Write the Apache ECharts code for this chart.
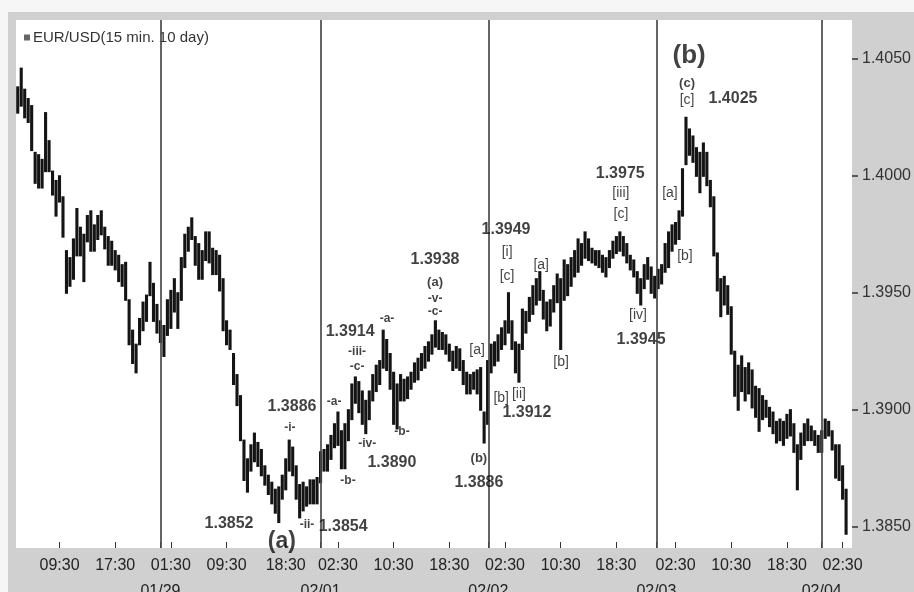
<!DOCTYPE html>
<html>
<head>
<meta charset="utf-8">
<script src="https://cdn.jsdelivr.net/npm/echarts@6.0.0/dist/echarts.min.js"></script>
<style>
html,body{margin:0;padding:0;background:#fff;}
#chart{width:914px;height:592px;}
</style>
</head>
<body>
<div id="chart"></div>
<script>
// 30-minute slots (slot 41 = 01/29 00:00, weekend compressed)
var seriesName = 'EUR/USD(15 min. 10 day)';

var highs = [
1.4038,1.4046,1.4037,1.4033,1.4030,1.4010,1.4009,1.4007,1.4027,1.4015,
1.4002,1.3998,1.4000,1.3991,1.3968,1.3965,1.3973,1.3986,1.3978,1.3975,
1.3983,1.3985,1.3979,1.3983,1.3985,1.3978,1.3974,1.3972,1.3968,1.3966,
1.3962,1.3963,1.3947,1.3934,1.3928,1.3939,1.3946,1.3949,1.3963,1.3954,
1.3945,1.3938,1.3936,1.3947,1.3951,1.3956,1.3950,1.3965,1.3975,1.3978,
1.3982,1.3974,1.3971,1.3968,1.3976,1.3976,1.3969,1.3968,1.3966,1.3956,
1.3938,1.3934,1.3924,1.3915,1.3906,1.3887,1.3879,1.3885,1.3890,1.3886,
1.3883,1.3876,1.3872,1.3869,1.3866,1.3867,1.3872,1.3879,1.3887,1.3884,
1.3876,1.3868,1.3869,1.3867,1.3870,1.3870,1.3871,1.3882,1.3883,1.3885,
1.3889,1.3894,1.3899,1.3891,1.3894,1.3900,1.3911,1.3914,1.3912,1.3908,
1.3904,1.3908,1.3915,1.3919,1.3921,1.3934,1.3930,1.3924,1.3916,1.3911,
1.3915,1.3913,1.3914,1.3916,1.3920,1.3922,1.3924,1.3927,1.3929,1.3932,
1.3938,1.3934,1.3933,1.3932,1.3928,1.3925,1.3927,1.3926,1.3921,1.3916,
1.3915,1.3916,1.3917,1.3918,1.3899,1.3921,1.3928,1.3929,1.3932,1.3935,
1.3938,1.3950,1.3938,1.3929,1.3928,1.3943,1.3942,1.3948,1.3953,1.3956,
1.3959,1.3951,1.3946,1.3947,1.3953,1.3958,1.3956,1.3964,1.3962,1.3965,
1.3968,1.3973,1.3971,1.3976,1.3973,1.3969,1.3968,1.3968,1.3966,1.3965,
1.3968,1.3972,1.3974,1.3976,1.3974,1.3971,1.3966,1.3964,1.3959,1.3956,
1.3962,1.3965,1.3961,1.3957,1.3960,1.3962,1.3971,1.3976,1.3979,1.3980,
1.3985,1.4003,1.4025,1.4020,1.4017,1.4012,1.4010,1.4014,1.4010,1.3998,
1.3991,1.3967,1.3956,1.3957,1.3953,1.3944,1.3925,1.3919,1.3923,1.3918,
1.3920,1.3917,1.3910,1.3909,1.3906,1.3904,1.3901,1.3899,1.3895,1.3896,
1.3895,1.3898,1.3900,1.3894,1.3885,1.3890,1.3894,1.3896,1.3893,1.3891,
1.3889,1.3891,1.3896,1.3895,1.3891,1.3885,1.3885,1.3876,1.3866
];

var lows = [
1.4027,1.4030,1.4025,1.4023,1.4011,1.3997,1.3995,1.3995,1.4002,1.4002,
1.3992,1.3983,1.3989,1.3974,1.3950,1.3953,1.3956,1.3966,1.3966,1.3955,
1.3972,1.3968,1.3968,1.3973,1.3975,1.3969,1.3962,1.3962,1.3960,1.3955,
1.3953,1.3947,1.3928,1.3920,1.3916,1.3928,1.3934,1.3938,1.3949,1.3938,
1.3933,1.3929,1.3923,1.3932,1.3935,1.3942,1.3935,1.3947,1.3961,1.3968,
1.3973,1.3962,1.3956,1.3956,1.3964,1.3963,1.3958,1.3958,1.3951,1.3934,
1.3928,1.3926,1.3911,1.3902,1.3887,1.3870,1.3865,1.3874,1.3878,1.3876,
1.3872,1.3868,1.3864,1.3860,1.3856,1.3852,1.3862,1.3866,1.3874,1.3872,
1.3862,1.3854,1.3857,1.3859,1.3860,1.3860,1.3860,1.3869,1.3874,1.3874,
1.3879,1.3884,1.3885,1.3875,1.3875,1.3887,1.3896,1.3903,1.3899,1.3894,
1.3890,1.3896,1.3904,1.3908,1.3911,1.3918,1.3917,1.3909,1.3894,1.3892,
1.3904,1.3904,1.3905,1.3909,1.3912,1.3913,1.3917,1.3918,1.3921,1.3924,
1.3927,1.3926,1.3926,1.3924,1.3921,1.3917,1.3918,1.3917,1.3911,1.3907,
1.3907,1.3909,1.3907,1.3900,1.3886,1.3894,1.3916,1.3919,1.3921,1.3926,
1.3928,1.3933,1.3926,1.3916,1.3912,1.3926,1.3933,1.3938,1.3941,1.3945,
1.3947,1.3939,1.3934,1.3936,1.3942,1.3946,1.3926,1.3947,1.3949,1.3953,
1.3957,1.3959,1.3962,1.3965,1.3964,1.3963,1.3962,1.3961,1.3959,1.3957,
1.3961,1.3965,1.3967,1.3968,1.3966,1.3963,1.3960,1.3957,1.3950,1.3945,
1.3952,1.3956,1.3950,1.3948,1.3952,1.3954,1.3959,1.3961,1.3968,1.3971,
1.3973,1.3983,1.4005,1.4009,1.4006,1.4000,1.3993,1.4000,1.3996,1.3987,
1.3966,1.3951,1.3940,1.3945,1.3941,1.3924,1.3906,1.3900,1.3908,1.3904,
1.3907,1.3901,1.3897,1.3891,1.3896,1.3897,1.3893,1.3890,1.3886,1.3887,
1.3885,1.3888,1.3889,1.3882,1.3866,1.3879,1.3885,1.3887,1.3887,1.3885,
1.3882,1.3882,1.3888,1.3889,1.3883,1.3871,1.3870,1.3862,1.3847
];

// x-axis tick labels (slot position -> text)
var timeLabelSlots = [12, 28, 44, 60, 77, 92, 108, 124, 140, 156, 172, 189, 205, 221, 237];
var timeLabels = ['09:30','17:30','01:30','09:30','18:30','02:30','10:30','18:30','02:30','10:30','18:30','02:30','10:30','18:30','02:30'];
var daySlots = [41, 87, 135.2, 183.5, 231];
var dayLabels = ['01/29','02/01','02/02','02/03','02/04'];
var yTicks = [1.3850, 1.3900, 1.3950, 1.4000, 1.4050];

// wave annotations: [slot, price, text, kind]
var annotations = [
  [60.7, 1.38513, '1.3852', 'num'],
  [75.9, 1.38435, '(a)', 'bigA'],
  [83.1, 1.38509, '-ii-', 'sm'],
  [93.5, 1.38500, '1.3854', 'num'],
  [78.8, 1.39013, '1.3886', 'num'],
  [78.2, 1.38923, '-i-', 'sm'],
  [90.9, 1.39034, '-a-', 'sm'],
  [94.9, 1.38697, '-b-', 'sm'],
  [95.5, 1.39333, '1.3914', 'num'],
  [97.5, 1.39248, '-iii-', 'sm'],
  [97.5, 1.39184, '-c-', 'sm'],
  [106.1, 1.39389, '-a-', 'sm'],
  [100.4, 1.38855, '-iv-', 'sm'],
  [107.5, 1.38774, '1.3890', 'num'],
  [110.4, 1.38906, '-b-', 'sm'],
  [119.9, 1.39641, '1.3938', 'num'],
  [119.9, 1.39547, '(a)', 'mid'],
  [119.9, 1.39474, '-v-', 'sm'],
  [119.9, 1.39419, '-c-', 'sm'],
  [132.0, 1.39256, '[a]', 'br'],
  [132.5, 1.38795, '(b)', 'mid'],
  [132.5, 1.38688, '1.3886', 'num'],
  [138.9, 1.39051, '[b]', 'br'],
  [144.0, 1.39068, '[ii]', 'br'],
  [146.3, 1.38987, '1.3912', 'num'],
  [140.3, 1.39769, '1.3949', 'num'],
  [140.6, 1.39675, '[i]', 'br'],
  [140.6, 1.39573, '[c]', 'br'],
  [150.4, 1.39620, '[a]', 'br'],
  [156.1, 1.39205, '[b]', 'br'],
  [173.1, 1.40009, '1.3975', 'num'],
  [173.3, 1.39927, '[iii]', 'br'],
  [173.3, 1.39838, '[c]', 'br'],
  [178.2, 1.39406, '[iv]', 'br'],
  [179.1, 1.39299, '1.3945', 'num'],
  [192.9, 1.40513, '(b)', 'bigB'],
  [192.3, 1.40397, '(c)', 'mid'],
  [192.3, 1.40325, '[c]', 'br'],
  [205.5, 1.40333, '1.4025', 'num'],
  [187.4, 1.39927, '[a]', 'br'],
  [191.7, 1.39658, '[b]', 'br']
];

var FONT = '"Liberation Sans", Arial, Helvetica, sans-serif';
var kindStyle = {
  num:  {fontSize: 16, fontWeight: 'bold'},
  bigA: {fontSize: 23, fontWeight: 'bold'},
  bigB: {fontSize: 26, fontWeight: 'bold'},
  mid:  {fontSize: 13, fontWeight: 'bold'},
  sm:   {fontSize: 12, fontWeight: 'bold'},
  br:   {fontSize: 14, fontWeight: 'normal'}
};

var barData = highs.map(function (h, i) { return [i, lows[i], h]; });

var annData = annotations.map(function (a) {
  var st = kindStyle[a[3]];
  return {
    value: [a[0], a[1]],
    label: {
      show: true, formatter: a[2], position: 'inside',
      fontSize: st.fontSize, fontWeight: st.fontWeight,
      fontFamily: FONT, color: '#111'
    }
  };
});

var chart = echarts.init(document.getElementById('chart'), null, {renderer: 'canvas'});
chart.setOption({
  animation: false,
  backgroundColor: '#d0d0d0',
  graphic: [
    {type: 'rect', shape: {x: 0, y: 0, width: 914, height: 12}, style: {fill: '#f6f6f6'}, z: -10},
    {type: 'rect', shape: {x: 0, y: 0, width: 8, height: 592}, style: {fill: '#f6f6f6'}, z: -10}
  ],
  legend: {
    show: true, left: 19, top: 25, itemWidth: 6, itemHeight: 6, itemGap: 4,
    data: [{name: seriesName, icon: 'rect'}],
    textStyle: {fontFamily: FONT, fontSize: 15, color: '#333', padding: [0, 0, 0, -2]}
  },
  grid: {left: 16, right: 62, top: 20, bottom: 44, show: true, backgroundColor: '#ffffff', borderWidth: 0,
    containLabel: false, outerBoundsMode: 'none'},
  xAxis: [
    {
      type: 'value', min: -0.5, max: 239.7, position: 'bottom',
      splitLine: {show: false},
      axisLine: {show: false, onZero: false},
      axisTick: {show: true, inside: true, length: 6, lineStyle: {color: '#333', width: 1},
        customValues: timeLabelSlots.concat(daySlots)},
      axisLabel: {
        show: true, margin: 10, fontFamily: FONT, fontSize: 16, color: '#222',
        customValues: timeLabelSlots,
        formatter: function (v) {
          for (var k = 0; k < timeLabelSlots.length; k++) { if (Math.abs(timeLabelSlots[k] - v) < 0.01) return timeLabels[k]; }
          return '';
        }
      }
    },
    {
      type: 'value', min: -0.5, max: 239.7, position: 'bottom',
      splitLine: {show: false}, axisLine: {show: false, onZero: false}, axisTick: {show: false},
      axisLabel: {
        show: true, margin: 36, fontFamily: FONT, fontSize: 16, color: '#222',
        customValues: daySlots,
        formatter: function (v) {
          for (var k = 0; k < daySlots.length; k++) { if (Math.abs(daySlots[k] - v) < 0.01) return dayLabels[k]; }
          return '';
        }
      }
    }
  ],
  yAxis: {
    type: 'value', position: 'right', min: 1.3841, max: 1.40667, scale: true,
    splitLine: {show: false},
    axisLine: {show: false, onZero: false},
    axisTick: {show: true, length: 6, lineStyle: {color: '#333', width: 1.5}, customValues: yTicks},
    axisLabel: {
      show: true, margin: 10, fontFamily: FONT, fontSize: 16, color: '#333',
      customValues: yTicks,
      formatter: function (v) { return v.toFixed(4); }
    }
  },
  series: [
    {
      name: seriesName,
      type: 'custom',
      xAxisIndex: 0,
      itemStyle: {color: '#666'},
      clip: true,
      data: barData,
      encode: {x: 0, y: [1, 2]},
      renderItem: function (params, api) {
        var x = api.value(0);
        var lo = api.coord([x, api.value(1)]);
        var hi = api.coord([x, api.value(2)]);
        return {
          type: 'line',
          shape: {x1: lo[0], y1: lo[1] + 0.8, x2: hi[0], y2: hi[1] - 0.8},
          style: {stroke: '#141414', lineWidth: 3.1}
        };
      },
      markLine: {
        silent: true, symbol: 'none', animation: false,
        label: {show: false},
        lineStyle: {color: '#4a4a4a', width: 1.7, type: 'solid'},
        data: daySlots.map(function (s) { return {xAxis: s}; })
      },
      z: 3
    },
    {
      name: 'annotations',
      type: 'scatter',
      xAxisIndex: 0,
      symbolSize: 0,
      silent: true,
      data: annData,
      z: 5
    }
  ]
});
</script>
</body>
</html>
